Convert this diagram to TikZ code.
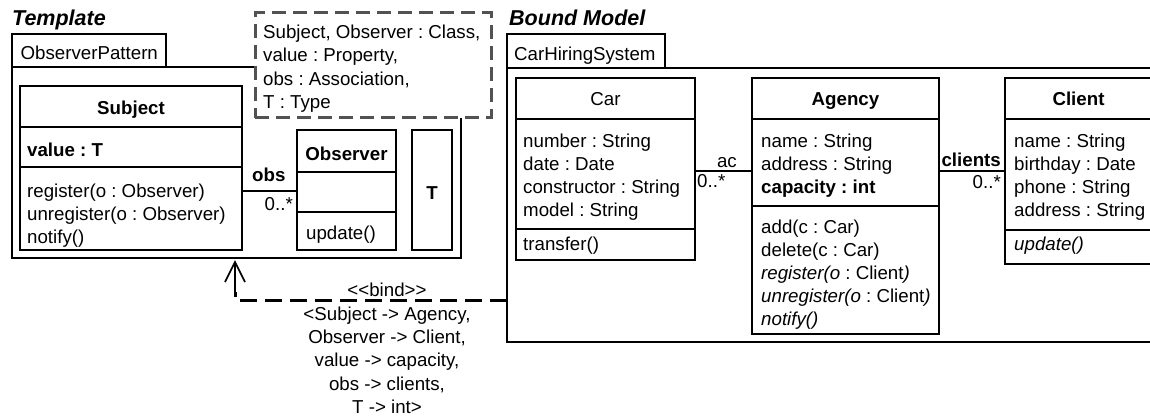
\documentclass[tikz,border=0pt]{standalone}
\usepackage{fontspec}
\setmainfont{Liberation Sans}
\usetikzlibrary{calc}
\frenchspacing
\begin{document}
\begin{tikzpicture}[x=1pt,y=-1pt,
  box/.style={draw, line width=1.6pt, fill=white, anchor=north west, inner sep=0pt, outer sep=0pt},
  ln/.style={line width=1.6pt},
  txt/.style={inner sep=0pt, anchor=base west, font=\fontsize{18.7pt}{23pt}\selectfont\frenchspacing},
  ctxt/.style={txt, anchor=base},
  etxt/.style={txt, anchor=base east},
  btxt/.style={font=\fontsize{18.7pt}{23pt}\selectfont\bfseries\frenchspacing},
  ttl/.style={inner sep=0pt, anchor=base west, font=\fontsize{21.5pt}{25pt}\selectfont\bfseries\itshape},
  dashbox/.style={draw=black!68, line width=3pt, dash pattern=on 14pt off 7pt, fill=white, anchor=north west, inner sep=0pt, outer sep=0pt},
  bindln/.style={line width=3pt, dash pattern=on 17pt off 8pt}
]
\useasboundingbox (0,0) rectangle (1150,417);

% ---------- Template ----------
\node[ttl] (ttlT) at (12,26) {Template};
\node[box, minimum width=154pt, minimum height=33pt] (tmpltab) at (12,34) {};
\node[box, minimum width=449pt, minimum height=191pt] (tmpl) at (12,67) {};
\node[txt] (tmplname) at (20.5,60) {ObserverPattern};

\node[dashbox, minimum width=236pt, minimum height=105pt] (params) at (255,13) {};
\node[txt] (p1) at (263,38.5) {Subject, Observer : Class,};
\node[txt] (p2) at (263,61.8) {value : Property,};
\node[txt] (p3) at (263,85.1) {obs : Association,};
\node[txt] (p4) at (263,108.4) {T : Type};

% Subject
\node[box, minimum width=222pt, minimum height=164pt] (subject) at (20,86) {};
\draw[ln] (subject.west |- 0,127) -- (subject.east |- 0,127);
\draw[ln] (subject.west |- 0,167) -- (subject.east |- 0,167);
\node[ctxt, btxt] (subjname) at (131,114) {Subject};
\node[txt, btxt] (subjattr) at (27,156) {value : T};
\node[txt] (sm1) at (27,197) {register(o : Observer)};
\node[txt] (sm2) at (27,220) {unregister(o : Observer)};
\node[txt] (sm3) at (27,243) {notify()};

% Observer
\node[box, minimum width=99pt, minimum height=120pt] (observer) at (297,130) {};
\draw[ln] (observer.west |- 0,172) -- (observer.east |- 0,172);
\draw[ln] (observer.west |- 0,212) -- (observer.east |- 0,212);
\node[ctxt, btxt] (obsname) at (346.5,160.5) {Observer};
\node[txt] (om1) at (306,239) {update()};

% T
\node[box, minimum width=40pt, minimum height=120pt] (tbox) at (412,130) {};
\node[ctxt, btxt] (tname) at (432,199) {T};

% obs association
\draw[ln] (subject.east |- 0,191) -- (observer.west |- 0,191);
\node[txt, btxt] (obslbl) at (252,181) {obs};
\node[etxt] (obsmult) at (293,210) {0..*};

% ---------- Bound Model ----------
\node[ttl] (ttlB) at (509,26) {Bound Model};
\node[box, minimum width=158pt, minimum height=34pt] (boundtab) at (507,34) {};
\node[box, minimum width=660pt, minimum height=274pt] (bound) at (507,68) {};
\node[txt] (boundname) at (514,60.5) {CarHiringSystem};

% Car
\node[box, minimum width=179pt, minimum height=182pt] (car) at (516,78) {};
\draw[ln] (car.west |- 0,119) -- (car.east |- 0,119);
\draw[ln] (car.west |- 0,229) -- (car.east |- 0,229);
\node[ctxt] (carname) at (605.5,106) {Car};
\node[txt] (ca1) at (523,147) {number : String};
\node[txt] (ca2) at (523,170) {date : Date};
\node[txt] (ca3) at (523,193) {constructor : String};
\node[txt] (ca4) at (523,216) {model : String};
\node[txt] (cm1) at (523,250) {transfer()};

% Agency
\node[box, minimum width=187pt, minimum height=256pt] (agency) at (752,78) {};
\draw[ln] (agency.west |- 0,119) -- (agency.east |- 0,119);
\draw[ln] (agency.west |- 0,206) -- (agency.east |- 0,206);
\node[ctxt, btxt] (agname) at (845.5,106) {Agency};
\node[txt] (aa1) at (761,147) {name : String};
\node[txt] (aa2) at (761,170) {address : String};
\node[txt, btxt] (aa3) at (761,193) {capacity : int};
\node[txt] (am1) at (761,233) {add(c : Car)};
\node[txt] (am2) at (761,256) {delete(c : Car)};
\node[txt] (am3) at (761,279) {\textit{register(o} : Client\textit{)}};
\node[txt] (am4) at (761,302) {\textit{unregister(o} : Client\textit{)}};
\node[txt] (am5) at (761,325) {\textit{notify()}};

% Client
\node[box, minimum width=147pt, minimum height=186pt] (client) at (1005,78) {};
\draw[ln] (client.west |- 0,119) -- (client.east |- 0,119);
\draw[ln] (client.west |- 0,230) -- (client.east |- 0,230);
\node[ctxt, btxt] (clname) at (1078.5,106) {Client};
\node[txt] (cla1) at (1014,147) {name : String};
\node[txt] (cla2) at (1014,170) {birthday : Date};
\node[txt] (cla3) at (1014,193) {phone : String};
\node[txt] (cla4) at (1014,216) {address : String};
\node[txt] (clm1) at (1014,250) {\textit{update()}};

% ac association
\draw[ln] (car.east |- 0,171) -- (agency.west |- 0,171);
\node[etxt] (aclbl) at (737,167) {ac};
\node[txt] (acmult) at (697,187) {0..*};

% clients association
\draw[ln] (agency.east |- 0,171) -- (client.west |- 0,171);
\node[etxt, btxt] (cllbl) at (1001,166.5) {clients};
\node[etxt] (clmult) at (1001,188) {0..*};

% ---------- bind dependency ----------
\coordinate (bindtip) at (235,262);
\coordinate (bindcorner) at (235,300);
\draw[ln] (bindtip) -- (235,292);
\draw[bindln] (bound.west |- bindcorner) -- (bindcorner) -- (235,292);
\draw[ln] ($(bindtip)+(-10,20)$) -- (bindtip) -- ($(bindtip)+(10,20)$);
\node[ctxt] (b1) at (387,296) {<{}<bind>{}>};
\node[ctxt] (b2) at (387,320) {<Subject -> Agency,};
\node[ctxt] (b3) at (387,343) {Observer -> Client,};
\node[ctxt] (b4) at (387,366.5) {value -> capacity,};
\node[ctxt] (b5) at (387,390) {obs -> clients,};
\node[ctxt] (b6) at (387,413) {T -> int>};
\end{tikzpicture}
\end{document}
